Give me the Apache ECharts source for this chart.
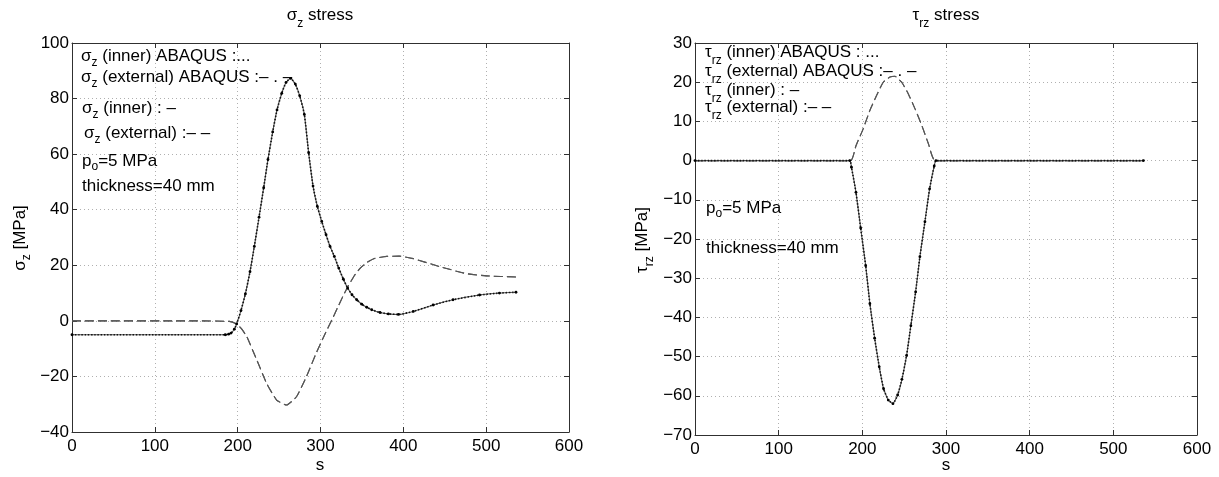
<!DOCTYPE html>
<html><head><meta charset="utf-8">
<script src="https://cdn.jsdelivr.net/npm/echarts@6/dist/echarts.min.js"></script>
<style>html,body{margin:0;padding:0;background:#fff}#c{width:1219px;height:477px}</style>
</head><body><div id="c"></div>
<script>
// ---- tick values ----
const xTicks = [0, 100, 200, 300, 400, 500, 600];
const sigmaTicks = [-40, -20, 0, 20, 40, 60, 80, 100];
const tauTicks = [-70, -60, -50, -40, -30, -20, -10, 0, 10, 20, 30];

// ---- sigma_z panel ----
const sigInnerS = [0, 185, 189, 192, 196, 198.8, 204, 209.3, 214.9, 220.1, 225.8, 231.4, 236.6, 242.3, 247.5, 253.2, 258.4, 264, 269.6, 274.9, 280.5, 285.7, 291, 296.2, 301.5, 306.7, 311.5, 316.7, 322, 327.6, 332.8, 338, 343.7, 349.8, 355.8, 361.8, 371.8, 381.9, 394, 412, 436, 460, 492, 516, 536];
const sigInner  = [-5, -5, -4.8, -4.4, -3.0, -1.1, 3.7, 9.7, 17.7, 26.8, 37.3, 47.9, 58.1, 68, 75.9, 81.9, 85.8, 87.3, 85.2, 81, 74.3, 60.5, 48.5, 41.2, 35.8, 31, 26.8, 23.2, 19, 15, 11.8, 9.4, 7.6, 6, 4.9, 4, 3.0, 2.5, 2.3, 3.4, 5.7, 7.6, 9.3, 10.0, 10.3];
const sigExtS = [0, 150, 190, 199, 205, 211, 223, 235, 247, 259, 271, 283, 295, 305, 314, 321, 327, 334, 341, 348, 356, 366, 380, 395, 412, 444, 476, 500, 536];
const sigExt  = [0, 0, -0.2, -1.2, -3, -5.7, -14, -22.5, -28.5, -30.3, -27.3, -20.1, -11.5, -5, 0.5, 5, 8.8, 12.8, 16.3, 19, 21, 22.5, 23.2, 23.3, 22.4, 19.5, 17, 16.2, 15.8];

// ---- tau_rz panel ----
const tauInnerS = [0, 185, 187, 192.4, 198, 204, 209, 214.7, 220.2, 225.4, 231, 236.6, 242.2, 247.3, 252.9, 258, 263.7, 268.8, 274.8, 280.4, 285.9, 288, 536];
const tauInner  = [0, 0, -1.7, -8.1, -17.2, -26.8, -36.5, -45.3, -52.6, -58.2, -61.1, -62, -59.8, -55.8, -49.7, -42.1, -33.5, -24.5, -15.6, -7.2, -1.4, 0, 0];
const tauExtS = [0, 186, 192.4, 201, 209, 217, 225, 233, 239, 247, 255, 263, 271, 279, 287, 536];
const tauExt  = [0, 0, 3.8, 8.1, 12.8, 16.6, 20, 21.3, 21.5, 20, 17, 13.2, 9, 4.3, 0, 0];

const zip = (a, b) => a.map((x, i) => [x, b[i]]);
const FONT = '"Liberation Sans", Arial, Helvetica, sans-serif';
const AX = '#303030';
const minus = v => String(v).replace('-', '\u2212');

function axes(gi, ticks) {
  const ymin = ticks[0], ymax = ticks[ticks.length - 1], yint = ticks[1] - ticks[0];
  const line = {show: true, onZero: false, lineStyle: {color: AX, width: 1}};
  const tick = {show: true, inside: true, length: 5, lineStyle: {color: AX, width: 1}};
  const grid = {show: true, lineStyle: {type: [1, 3], color: '#b0b0b0', width: 1}};
  const lab = {color: '#000', fontSize: 17, fontFamily: FONT};
  const xmin = xTicks[0], xmax = xTicks[xTicks.length - 1], xint = xTicks[1] - xTicks[0];
  return {
    x: [
      {type: 'value', gridIndex: gi, position: 'bottom', min: xmin, max: xmax, interval: xint,
       axisLine: line, axisTick: tick, splitLine: grid,
       axisLabel: Object.assign({margin: 6, formatter: minus}, lab)},
      {type: 'value', gridIndex: gi, position: 'top', min: xmin, max: xmax, interval: xint,
       axisLine: line, axisTick: tick, splitLine: {show: false}, axisLabel: {show: false}}
    ],
    y: [
      {type: 'value', gridIndex: gi, position: 'left', min: ymin, max: ymax, interval: yint,
       axisLine: line, axisTick: tick, splitLine: grid,
       axisLabel: Object.assign({margin: 3, formatter: minus}, lab)},
      {type: 'value', gridIndex: gi, position: 'right', min: ymin, max: ymax, interval: yint,
       axisLine: line, axisTick: tick, splitLine: {show: false}, axisLabel: {show: false}}
    ]
  };
}
const A0 = axes(0, sigmaTicks), A1 = axes(1, tauTicks);

function seriesFor(xi, yi, innerS, inner, extS, ext, names) {
  return [
    {name: names[3], type: 'line', xAxisIndex: xi, yAxisIndex: yi, data: zip(extS, ext), showSymbol: false,
     smooth: 0.15, lineStyle: {color: '#555', width: 1.1, type: [9, 4]}, z: 2},
    {name: names[1], type: 'line', xAxisIndex: xi, yAxisIndex: yi, data: zip(extS, ext), showSymbol: false,
     smooth: 0.15, lineStyle: {color: '#555', width: 1.1, type: [9, 4]}, z: 2},
    {name: names[2], type: 'line', xAxisIndex: xi, yAxisIndex: yi, data: zip(innerS, inner), showSymbol: false,
     smooth: 0.15, lineStyle: {color: '#555', width: 1.1}, z: 3},
    {name: names[0], type: 'line', xAxisIndex: xi, yAxisIndex: yi, data: zip(innerS, inner),
     showSymbol: true, showAllSymbol: true, symbol: 'circle', symbolSize: 2.8,
     itemStyle: {color: '#000'}, smooth: 0.15,
     lineStyle: {color: '#111', width: 1.6, type: [1.4, 1.8]}, z: 4}
  ];
}

// rich-text label: main glyph centre at cy, subscript centre `off` px lower
function label(x, cy, text, off, opts) {
  opts = opts || {};
  const B = off > 0 ? 16 + off : 20;
  const rich = {
    n: {fontSize: 17, fontFamily: FONT, color: '#000', lineHeight: 20, verticalAlign: 'top'},
    s: {fontSize: 12, fontFamily: FONT, color: '#000', lineHeight: 12, verticalAlign: 'bottom'},
    p: {lineHeight: B, width: 0, fontSize: 1}
  };
  const el = {
    type: 'text', x: x, y: cy - 10, z: 50,
    style: {text: '{p|}' + text, rich: rich, align: opts.align || 'left', verticalAlign: 'top', fill: '#000'}
  };
  if (opts.rotate) {
    el.rotation = Math.PI / 2;
    el.style.align = 'center';
    el.x = x - 10; el.y = cy;
  }
  return el;
}

const graphics = [
  label(320, 17, '{n|σ}{s|z}{n| stress}', 7, {align: 'center'}),
  label(946, 17, '{n|τ}{s|rz}{n| stress}', 7, {align: 'center'}),
  label(22, 238, '{n|σ}{s|z}{n| [MPa]}', 5, {rotate: true}),
  label(644, 240, '{n|τ}{s|rz}{n| [MPa]}', 6, {rotate: true}),
  label(320, 467, '{n|s}', 0, {align: 'center'}),
  label(946, 467, '{n|s}', 0, {align: 'center'}),
  // sigma legend
  label(81, 58, '{n|σ}{s|z}{n| (inner) ABAQUS :...}', 5),
  label(81, 79, '{n|σ}{s|z}{n| (external) ABAQUS :– . –}', 5),
  label(82, 110, '{n|σ}{s|z}{n| (inner) : –}', 5),
  label(84, 135, '{n|σ}{s|z}{n| (external) :– –}', 5),
  label(82, 163, '{n|p}{s|o}{n|=5 MPa}', 4),
  label(82, 188, '{n|thickness=40 mm}', 0),
  // tau legend
  label(705, 54, '{n|τ}{s|rz}{n| (inner) ABAQUS : ...}', 7),
  label(705, 73, '{n|τ}{s|rz}{n| (external) ABAQUS :– . –}', 7),
  label(705, 92, '{n|τ}{s|rz}{n| (inner) : –}', 7),
  label(705, 109, '{n|τ}{s|rz}{n| (external) :– –}', 7),
  label(706, 210, '{n|p}{s|o}{n|=5 MPa}', 4),
  label(706, 250, '{n|thickness=40 mm}', 0)
];

const chart = echarts.init(document.getElementById('c'), null, {renderer: 'canvas'});
chart.setOption({
  animation: false,
  backgroundColor: '#fff',
  grid: [
    {left: 72, top: 43, width: 497, height: 389},
    {left: 695, top: 43, width: 502, height: 392}
  ],
  xAxis: A0.x.concat(A1.x),
  yAxis: A0.y.concat(A1.y),
  series: seriesFor(0, 0, sigInnerS, sigInner, sigExtS, sigExt,
      ['σz (inner) ABAQUS', 'σz (external) ABAQUS', 'σz (inner)', 'σz (external)'])
    .concat(seriesFor(2, 2, tauInnerS, tauInner, tauExtS, tauExt,
      ['τrz (inner) ABAQUS', 'τrz (external) ABAQUS', 'τrz (inner)', 'τrz (external)'])),
  graphic: graphics
});
</script>
</body></html>
